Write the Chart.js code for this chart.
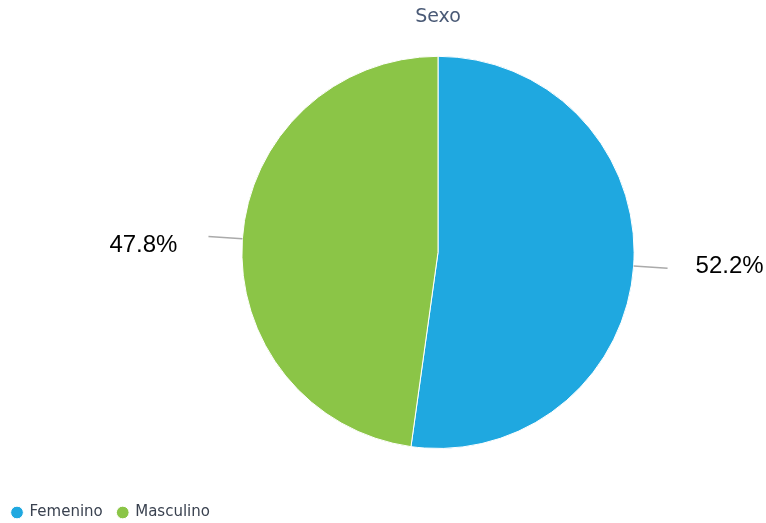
<!DOCTYPE html>
<html>
<head>
<meta charset="utf-8">
<title>Sexo</title>
<script src="https://cdn.jsdelivr.net/npm/chart.js@4"></script>
<style>
  html, body { margin: 0; padding: 0; background: #fff; }
  #wrap { width: 766px; height: 523px; }
</style>
</head>
<body>
<div id="wrap"><canvas id="grafico" width="766" height="523"></canvas></div>
<script>
const categorias = ['Femenino', 'Masculino'];
const porcentajes = [52.2, 47.8];
const colores = ['#1fa8e0', '#8bc547'];

// lineas guia y etiquetas de porcentaje fuera del pastel
const etiquetasFuera = {
  id: 'etiquetasFuera',
  afterDatasetsDraw(chart) {
    const ctx = chart.ctx;
    const meta = chart.getDatasetMeta(0);
    meta.data.forEach((arc, i) => {
      const ang = (arc.startAngle + arc.endAngle) / 2;
      const r = arc.outerRadius;
      const cos = Math.cos(ang), sin = Math.sin(ang);
      const x1 = arc.x + cos * r, y1 = arc.y + sin * r;
      const x2 = arc.x + cos * (r + 34), y2 = arc.y + sin * (r + 34);
      ctx.save();
      ctx.strokeStyle = '#aaaaaa';
      ctx.lineWidth = 1.5;
      ctx.beginPath();
      ctx.moveTo(x1, y1);
      ctx.lineTo(x2, y2);
      ctx.stroke();
      const derecha = cos >= 0;
      ctx.fillStyle = '#000';
      ctx.font = '24px "Liberation Sans", Arial, sans-serif';
      ctx.textAlign = derecha ? 'left' : 'right';
      ctx.textBaseline = 'middle';
      ctx.fillText(porcentajes[i].toFixed(1) + '%', x2 + (derecha ? 28 : -31), y2 + (derecha ? -2 : 9));
      ctx.restore();
    });
  }
};

// la leyenda va pegada abajo a la izquierda, fuera del relleno del grafico
const leyendaAbajo = {
  id: 'leyendaAbajo',
  afterLayout(chart) {
    const ley = chart.legend;
    const alto = ley.bottom - ley.top;
    ley.left = -3;
    ley.right = chart.width;
    ley.top = 490;
    ley.bottom = 490 + alto;
  }
};

new Chart(document.getElementById('grafico'), {
  type: 'pie',
  data: {
    labels: categorias,
    datasets: [{
      data: porcentajes,
      backgroundColor: colores,
      borderColor: '#ffffff',
      borderWidth: 1,
    }],
  },
  options: {
    responsive: false,
    animation: false,
    layout: { padding: { left: 110, right: 0, top: 0, bottom: 34 } },
    plugins: {
      title: {
        display: true,
        text: 'Sexo',
        color: '#4a5a76',
        font: { family: '"DejaVu Sans", sans-serif', size: 19, weight: 'normal' },
        padding: { top: 6, bottom: 27 },
      },
      legend: {
        position: 'bottom',
        align: 'start',
        labels: {
          usePointStyle: true,
          pointStyle: 'circle',
          boxWidth: 10,
          boxHeight: 9,
          color: '#3a4250',
          font: { family: '"DejaVu Sans", sans-serif', size: 15 },
          padding: 15,
        },
      },
      tooltip: { enabled: false },
    },
  },
  plugins: [etiquetasFuera, leyendaAbajo],
});
</script>
</body>
</html>
